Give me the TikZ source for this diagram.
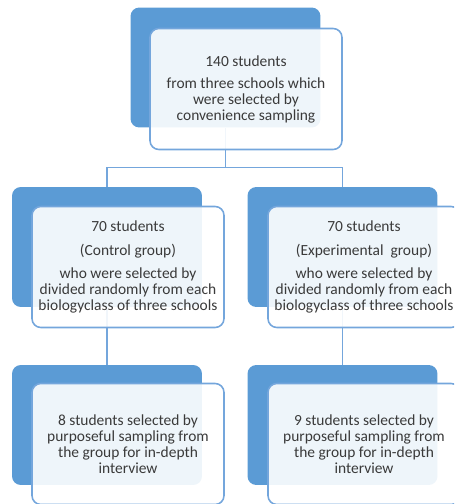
\documentclass[tikz,border=0pt]{standalone}
\usepackage{fontspec}
\setmainfont{Carlito}
\usepackage{xcolor}
\usetikzlibrary{positioning}
\definecolor{grpblue}{HTML}{5B9BD5}
\definecolor{grpline}{HTML}{74A6DC}
\definecolor{grptext}{HTML}{3A3A3A}

\begin{document}
\begin{tikzpicture}[x=0.02cm, y=-0.02cm, font=\fontsize{8.8}{9.1}\selectfont,
        back/.style={fill=grpblue, rounded corners=5pt, minimum width=3.8cm, minimum height=2.4cm, inner sep=0pt},
        card/.style={draw=grpline, line width=0.9pt, fill=white, fill opacity=0.9, text opacity=1, text=grptext,
          rounded corners=5pt, minimum width=3.84cm, minimum height=2.42cm, align=center, inner sep=0pt},
        link/.style={draw=grpline, line width=0.7pt}]
        \useasboundingbox (0,0) rectangle (454,504);
        \clip (0,0) rectangle (454,504);
        % back plates
        \node[back] (allb) at (225.5,67.5) {};
        \node[back] (ctrlb) at (107,247) {};
        \node[back] (exptb) at (342.5,247) {};
        \node[back] (ctrlib) at (107,425) {};
        \node[back] (exptib) at (342.5,425) {};
        % connectors
        \coordinate (fork) at ([yshift=-0.8cm]allb.south);
        \draw[link] (allb.south) -- (fork);
        \draw[link] (ctrlb.north) |- (fork) -| (exptb.north);
        \draw[link] (ctrlb.south) -- (ctrlib.north);
        \draw[link] (exptb.south) -- (exptib.north);
        % cards
        \node[card] (all) at (246,89) {140 students\\[3.4pt]from three schools which\\were selected by\\convenience sampling};
        \node[card] (ctrl) at (128,267) {70 students\\[4.3pt](Control group)\\[4.3pt]who were selected by\\divided randomly from each\\biologyclass of three schools};
        \node[card] (expt) at (364,267) {70 students\\[4.3pt](Experimental\ \ group)\\[4.3pt]who were selected by\\divided randomly from each\\biologyclass of three schools};
        \node[card] (ctrli) at (128,444) {8 students selected by\\purposeful sampling from\\the group for in-depth\\interview};
        \node[card] (expti) at (364,444) {9 students selected by\\purposeful sampling from\\the group for in-depth\\interview};
      \end{tikzpicture}
\end{document}
